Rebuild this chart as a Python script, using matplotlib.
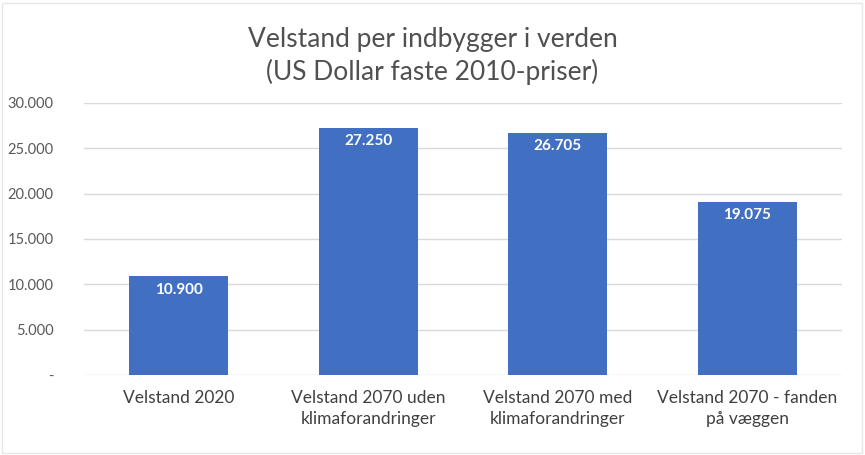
import matplotlib.pyplot as plt
from matplotlib.patches import Rectangle
from matplotlib.ticker import FuncFormatter

plt.rcParams['font.family'] = ['Lato', 'DejaVu Sans']

kategorier = ['Velstand 2020', 'Velstand 2070 uden\nklimaforandringer',
              'Velstand 2070 med\nklimaforandringer', 'Velstand 2070 - fanden\npå væggen']
velstand = [10900, 27250, 26705, 19075]
y_ticks = [0, 5000, 10000, 15000, 20000, 25000, 30000]


def dk_format(v, pos=None):
    if v == 0:
        return '-'
    return f'{v:,.0f}'.replace(',', '.')


fig = plt.figure(figsize=(8.65, 4.55), dpi=100)
ax = fig.add_axes((84 / 865, 80 / 455, 758 / 865, 272 / 455))

x = range(len(kategorier))
bars = ax.bar(x, velstand, width=0.52, color='#4170C2', zorder=3)

for b, v in zip(bars, velstand):
    ax.text(b.get_x() + b.get_width() / 2, v - 700, dk_format(v),
            ha='center', va='top', color='white', fontsize=11, fontweight='bold')

ax.set_xlim(-0.5, len(kategorier) - 0.5)
ax.set_ylim(0, 30000)
ax.set_yticks(y_ticks)
ax.yaxis.set_major_formatter(FuncFormatter(dk_format))
ax.set_xticks(list(x))
ax.set_xticklabels(kategorier, fontsize=12.5, color='#404040', linespacing=1.35)
ax.tick_params(axis='y', labelsize=10.5, labelcolor='#595959', length=0, pad=22)
ax.tick_params(axis='x', length=0, pad=11)
ax.grid(axis='y', color='#D9D9D9', linewidth=1, zorder=0)

for s in ax.spines.values():
    s.set_visible(False)

fig.text(0.5, (455 - 56) / 455, 'Velstand per indbygger i verden\n(US Dollar faste 2010-priser)',
         ha='center', va='center', fontsize=19, color='#505050', linespacing=1.3)

# tynd ramme rundt om diagrammet
fig.patches.append(Rectangle((0.002, 0.004), 0.994, 0.99, transform=fig.transFigure,
                             fill=False, edgecolor='#E6E6E6', linewidth=1))

fig.savefig('out.png', dpi=100)
